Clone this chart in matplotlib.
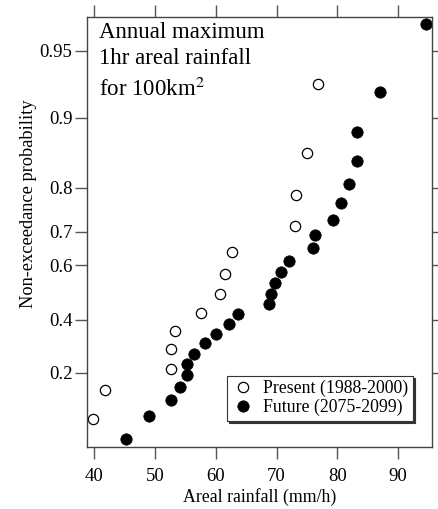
#!/usr/bin/env python3
"""Gumbel probability plot of annual maximum 1hr areal rainfall (100 km2)."""

import numpy as np
import matplotlib
matplotlib.use("Agg")
import matplotlib.pyplot as plt

# Present climate (1988-2000), 13 annual maxima
present_rain = [39.8, 41.7, 52.7, 52.7, 53.3, 57.5, 60.7, 61.5, 62.6,
                73.0, 73.2, 75.0, 76.8]
present_prob = [0.071, 0.143, 0.214, 0.286, 0.357, 0.429, 0.500, 0.571,
                0.643, 0.714, 0.786, 0.857, 0.929]

# Future climate (2075-2099), 25 annual maxima
future_rain = [45.2, 49.0, 52.6, 54.1, 55.2, 55.3, 56.4, 58.2, 60.1, 62.2,
               63.7, 68.8, 69.1, 69.7, 70.7, 72.1, 76.0, 76.4, 79.3, 80.6,
               82.0, 83.2, 83.3, 87.0, 94.6]
future_prob = [0.038, 0.077, 0.115, 0.154, 0.192, 0.231, 0.269, 0.308,
               0.346, 0.385, 0.423, 0.462, 0.500, 0.538, 0.577, 0.615,
               0.654, 0.692, 0.731, 0.769, 0.808, 0.846, 0.885, 0.923,
               0.962]

prob_ticks = [0.2, 0.4, 0.6, 0.7, 0.8, 0.9, 0.95]
rain_ticks = [40, 50, 60, 70, 80, 90]

title_lines = ["Annual maximum", "1hr areal rainfall", "for 100km$^2$"]


def gumbel(p):
    p = np.clip(np.asarray(p, dtype=float), 1e-9, 1 - 1e-9)
    return -np.log(-np.log(p))


def gumbel_inv(y):
    return np.exp(-np.exp(-np.asarray(y, dtype=float)))


plt.rcParams["font.family"] = ["Liberation Serif", "DejaVu Serif"]
plt.rcParams["mathtext.fontset"] = "stix"

fig = plt.figure(figsize=(4.38, 5.09), dpi=100)
ax = fig.add_axes([0.1986, 0.1224, 0.7877, 0.8442])
ax.set_yscale("function", functions=(gumbel, gumbel_inv))

ax.plot(present_rain, present_prob, "o", ms=7.4, mfc="white", mec="black",
        mew=0.9, label="Present (1988-2000)", clip_on=False)
ax.plot(future_rain, future_prob, "o", ms=8.2, mfc="black", mec="black",
        mew=0.5, label="Future (2075-2099)", clip_on=False)

ax.set_xlim(38.8, 95.6)
ax.set_ylim(0.0286, 0.9648)
ax.set_xticks(rain_ticks)
ax.set_yticks(prob_ticks)
ax.set_yticklabels([f"{p:g}" for p in prob_ticks])
ax.yaxis.set_minor_locator(matplotlib.ticker.NullLocator())
ax.tick_params(direction="out", length=8.5, width=1, color="#555555",
               labelsize=13.5, top=True, right=True)
ax.tick_params(axis="y", pad=2)
ax.tick_params(axis="x", pad=7)

for s in ax.spines.values():
    s.set_color("#444444")
    s.set_linewidth(1.0)

ax.set_xlabel("Areal rainfall (mm/h)", fontsize=12.8, labelpad=2)
ax.set_ylabel("Non-exceedance probability", fontsize=13.2)
ax.yaxis.set_label_coords(-0.146, 0.565)

# title block, one text per line (baselines in axes fraction)
for line, yb in zip(title_lines, [0.951, 0.891, 0.816]):
    ax.text(0.035, yb, line, transform=ax.transAxes, ha="left",
            va="baseline", fontsize=16.5)

leg = ax.legend(loc="lower right", bbox_to_anchor=(0.945, 0.06),
                fontsize=12.8, frameon=True, fancybox=False,
                shadow={"ox": 1.5, "oy": -1.5, "color": "#333333", "alpha": 1},
                handletextpad=0.5, borderpad=0.25, labelspacing=0.1,
                handlelength=1.3, borderaxespad=0)
leg.get_frame().set_edgecolor("#333333")
leg.get_frame().set_linewidth(0.8)

fig.savefig("out.png", dpi=100)
